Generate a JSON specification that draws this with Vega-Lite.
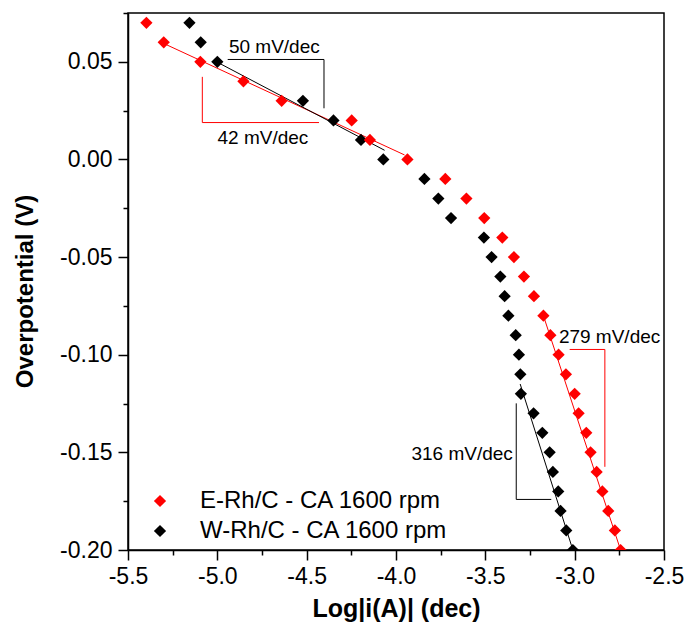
{
  "$schema": "https://vega.github.io/schema/vega-lite/v6.json",
  "width": 536,
  "height": 537,
  "autosize": {"type": "none"},
  "padding": {"left": 128, "top": 13, "right": 24, "bottom": 75},
  "background": "white",
  "config": {
    "view": {"stroke": "black", "strokeWidth": 1.5},
    "font": "Liberation Sans",
    "axis": {
      "domainColor": "black",
      "domainWidth": 1.5,
      "tickColor": "black",
      "tickWidth": 1.5,
      "labelColor": "black",
      "labelFont": "Liberation Sans",
      "labelFontSize": 23,
      "titleFont": "Liberation Sans",
      "titleFontWeight": "bold",
      "titleColor": "black",
      "grid": false
    }
  },
  "datasets": {
    "pts": [
      {"x": -5.156, "y": 0.07, "s": "W-Rh/C - CA 1600 rpm"},
      {"x": -5.093, "y": 0.06, "s": "W-Rh/C - CA 1600 rpm"},
      {"x": -5.0, "y": 0.05, "s": "W-Rh/C - CA 1600 rpm"},
      {"x": -4.521, "y": 0.03, "s": "W-Rh/C - CA 1600 rpm"},
      {"x": -4.35, "y": 0.02, "s": "W-Rh/C - CA 1600 rpm"},
      {"x": -4.196, "y": 0.01, "s": "W-Rh/C - CA 1600 rpm"},
      {"x": -4.071, "y": 0.0, "s": "W-Rh/C - CA 1600 rpm"},
      {"x": -3.841, "y": -0.01, "s": "W-Rh/C - CA 1600 rpm"},
      {"x": -3.763, "y": -0.02, "s": "W-Rh/C - CA 1600 rpm"},
      {"x": -3.692, "y": -0.03, "s": "W-Rh/C - CA 1600 rpm"},
      {"x": -3.508, "y": -0.04, "s": "W-Rh/C - CA 1600 rpm"},
      {"x": -3.465, "y": -0.05, "s": "W-Rh/C - CA 1600 rpm"},
      {"x": -3.416, "y": -0.06, "s": "W-Rh/C - CA 1600 rpm"},
      {"x": -3.392, "y": -0.07, "s": "W-Rh/C - CA 1600 rpm"},
      {"x": -3.371, "y": -0.08, "s": "W-Rh/C - CA 1600 rpm"},
      {"x": -3.33, "y": -0.09, "s": "W-Rh/C - CA 1600 rpm"},
      {"x": -3.312, "y": -0.10, "s": "W-Rh/C - CA 1600 rpm"},
      {"x": -3.304, "y": -0.11, "s": "W-Rh/C - CA 1600 rpm"},
      {"x": -3.301, "y": -0.12, "s": "W-Rh/C - CA 1600 rpm"},
      {"x": -3.23, "y": -0.13, "s": "W-Rh/C - CA 1600 rpm"},
      {"x": -3.181, "y": -0.14, "s": "W-Rh/C - CA 1600 rpm"},
      {"x": -3.14, "y": -0.15, "s": "W-Rh/C - CA 1600 rpm"},
      {"x": -3.122, "y": -0.16, "s": "W-Rh/C - CA 1600 rpm"},
      {"x": -3.092, "y": -0.17, "s": "W-Rh/C - CA 1600 rpm"},
      {"x": -3.079, "y": -0.18, "s": "W-Rh/C - CA 1600 rpm"},
      {"x": -3.047, "y": -0.19, "s": "W-Rh/C - CA 1600 rpm"},
      {"x": -3.01, "y": -0.20, "s": "W-Rh/C - CA 1600 rpm"},
      {"x": -5.397, "y": 0.07, "s": "E-Rh/C - CA 1600 rpm"},
      {"x": -5.30, "y": 0.06, "s": "E-Rh/C - CA 1600 rpm"},
      {"x": -5.095, "y": 0.05, "s": "E-Rh/C - CA 1600 rpm"},
      {"x": -4.854, "y": 0.04, "s": "E-Rh/C - CA 1600 rpm"},
      {"x": -4.64, "y": 0.03, "s": "E-Rh/C - CA 1600 rpm"},
      {"x": -4.248, "y": 0.02, "s": "E-Rh/C - CA 1600 rpm"},
      {"x": -4.146, "y": 0.01, "s": "E-Rh/C - CA 1600 rpm"},
      {"x": -3.936, "y": 0.0, "s": "E-Rh/C - CA 1600 rpm"},
      {"x": -3.724, "y": -0.01, "s": "E-Rh/C - CA 1600 rpm"},
      {"x": -3.606, "y": -0.02, "s": "E-Rh/C - CA 1600 rpm"},
      {"x": -3.506, "y": -0.03, "s": "E-Rh/C - CA 1600 rpm"},
      {"x": -3.405, "y": -0.04, "s": "E-Rh/C - CA 1600 rpm"},
      {"x": -3.34, "y": -0.05, "s": "E-Rh/C - CA 1600 rpm"},
      {"x": -3.284, "y": -0.06, "s": "E-Rh/C - CA 1600 rpm"},
      {"x": -3.228, "y": -0.07, "s": "E-Rh/C - CA 1600 rpm"},
      {"x": -3.175, "y": -0.08, "s": "E-Rh/C - CA 1600 rpm"},
      {"x": -3.136, "y": -0.09, "s": "E-Rh/C - CA 1600 rpm"},
      {"x": -3.09, "y": -0.10, "s": "E-Rh/C - CA 1600 rpm"},
      {"x": -3.049, "y": -0.11, "s": "E-Rh/C - CA 1600 rpm"},
      {"x": -3.0, "y": -0.12, "s": "E-Rh/C - CA 1600 rpm"},
      {"x": -2.978, "y": -0.13, "s": "E-Rh/C - CA 1600 rpm"},
      {"x": -2.935, "y": -0.14, "s": "E-Rh/C - CA 1600 rpm"},
      {"x": -2.911, "y": -0.15, "s": "E-Rh/C - CA 1600 rpm"},
      {"x": -2.877, "y": -0.16, "s": "E-Rh/C - CA 1600 rpm"},
      {"x": -2.845, "y": -0.17, "s": "E-Rh/C - CA 1600 rpm"},
      {"x": -2.812, "y": -0.18, "s": "E-Rh/C - CA 1600 rpm"},
      {"x": -2.775, "y": -0.19, "s": "E-Rh/C - CA 1600 rpm"},
      {"x": -2.743, "y": -0.20, "s": "E-Rh/C - CA 1600 rpm"}
    ],
    "lines": [
      {"id": "E1", "c": "red", "o": 1, "x": -5.30, "y": 0.0594},
      {"id": "E1", "c": "red", "o": 2, "x": -3.952, "y": 0.0023},
      {"id": "E2", "c": "red", "o": 1, "x": -3.175, "y": -0.08},
      {"id": "E2", "c": "red", "o": 2, "x": -2.743, "y": -0.20},
      {"id": "W1", "c": "black", "o": 1, "x": -5.0, "y": 0.0498},
      {"id": "W1", "c": "black", "o": 2, "x": -4.064, "y": 0.0047},
      {"id": "W2", "c": "black", "o": 1, "x": -3.305, "y": -0.115},
      {"id": "W2", "c": "black", "o": 2, "x": -3.01, "y": -0.20},
      {"id": "B50", "c": "black", "o": 1, "x": -4.942, "y": 0.0512},
      {"id": "B50", "c": "black", "o": 2, "x": -4.403, "y": 0.0512},
      {"id": "B50", "c": "black", "o": 3, "x": -4.403, "y": 0.0262},
      {"id": "B42", "c": "red", "o": 1, "x": -5.084, "y": 0.0423},
      {"id": "B42", "c": "red", "o": 2, "x": -5.084, "y": 0.0189},
      {"id": "B42", "c": "red", "o": 3, "x": -4.431, "y": 0.0189},
      {"id": "B279", "c": "red", "o": 1, "x": -3.028, "y": -0.0973},
      {"id": "B279", "c": "red", "o": 2, "x": -2.831, "y": -0.0973},
      {"id": "B279", "c": "red", "o": 3, "x": -2.831, "y": -0.1574},
      {"id": "B316", "c": "black", "o": 1, "x": -3.327, "y": -0.1249},
      {"id": "B316", "c": "black", "o": 2, "x": -3.327, "y": -0.1741},
      {"id": "B316", "c": "black", "o": 3, "x": -3.131, "y": -0.1741}
    ],
    "labels": [
      {"x": -4.681, "y": 0.0578, "t": "50 mV/dec"},
      {"x": -4.745, "y": 0.0111, "t": "42 mV/dec"},
      {"x": -2.8045, "y": -0.0908, "t": "279 mV/dec"},
      {"x": -3.63, "y": -0.1507, "t": "316 mV/dec"}
    ]
  },
  "layer": [
    {
      "data": {"name": "lines"},
      "transform": [{"filter": "datum.c === 'red'"}],
      "mark": {"type": "line", "color": "#ff0000", "strokeWidth": 1, "clip": true},
      "encoding": {
        "x": {"field": "x", "type": "quantitative"},
        "y": {"field": "y", "type": "quantitative"},
        "detail": {"field": "id"},
        "order": {"field": "o"}
      }
    },
    {
      "data": {"name": "lines"},
      "transform": [{"filter": "datum.c === 'black'"}],
      "mark": {"type": "line", "color": "#000000", "strokeWidth": 1, "clip": true},
      "encoding": {
        "x": {"field": "x", "type": "quantitative"},
        "y": {"field": "y", "type": "quantitative"},
        "detail": {"field": "id"},
        "order": {"field": "o"}
      }
    },
    {
      "data": {"name": "pts"},
      "mark": {"type": "point", "shape": "diamond", "filled": true, "size": 150, "opacity": 1, "clip": true},
      "encoding": {
        "x": {
          "field": "x", "type": "quantitative",
          "scale": {"domain": [-5.5, -2.5], "nice": false, "zero": false},
          "axis": {
            "title": "Log|i(A)| (dec)",
            "titleFontSize": 25,
            "titlePadding": 8,
            "values": [-5.5, -5.25, -5.0, -4.75, -4.5, -4.25, -4.0, -3.75, -3.5, -3.25, -3.0, -2.75, -2.5],
            "labelExpr": "abs(datum.value*2 - round(datum.value*2)) < 0.001 ? replace(format(datum.value, '.1f'), '\u2212', '-') : ''",
            "tickSize": {"condition": {"test": "abs(datum.value*2 - round(datum.value*2)) < 0.001", "value": 10}, "value": 5},
            "labelPadding": 5,
            "labelFlush": false,
            "labelOverlap": false
          }
        },
        "y": {
          "field": "y", "type": "quantitative",
          "scale": {"domain": [-0.2, 0.075], "nice": false, "zero": false},
          "axis": {
            "title": "Overpotential (V)",
            "titleFontSize": 24,
            "titlePadding": 22,
            "titleY": 278,
            "values": [-0.2, -0.175, -0.15, -0.125, -0.1, -0.075, -0.05, -0.025, 0, 0.025, 0.05, 0.075],
            "labelExpr": "abs(datum.value*20 - round(datum.value*20)) < 0.001 ? replace(format(datum.value, '.2f'), '\u2212', '-') : ''",
            "tickSize": {"condition": {"test": "abs(datum.value*20 - round(datum.value*20)) < 0.001", "value": 10}, "value": 5},
            "labelPadding": 6,
            "labelFlush": false,
            "labelOverlap": false
          }
        },
        "color": {
          "field": "s", "type": "nominal",
          "scale": {"domain": ["E-Rh/C - CA 1600 rpm", "W-Rh/C - CA 1600 rpm"], "range": ["#ff0000", "#000000"]},
          "legend": {
            "title": null,
            "orient": "none",
            "legendX": 20,
            "legendY": 476,
            "padding": 0,
            "symbolType": "diamond",
            "symbolSize": 150,
            "symbolStrokeWidth": 0,
            "symbolOpacity": 1,
            "labelFontSize": 24,
            "labelFont": "Liberation Sans",
            "labelColor": "black",
            "labelOffset": 28,
            "rowPadding": 6,
            "labelLimit": 400
          }
        }
      }
    },
    {
      "data": {"name": "labels"},
      "mark": {"type": "text", "fontSize": 19, "font": "Liberation Sans", "color": "black", "align": "center", "baseline": "middle"},
      "encoding": {
        "x": {"field": "x", "type": "quantitative"},
        "y": {"field": "y", "type": "quantitative"},
        "text": {"field": "t"}
      }
    }
  ]
}
